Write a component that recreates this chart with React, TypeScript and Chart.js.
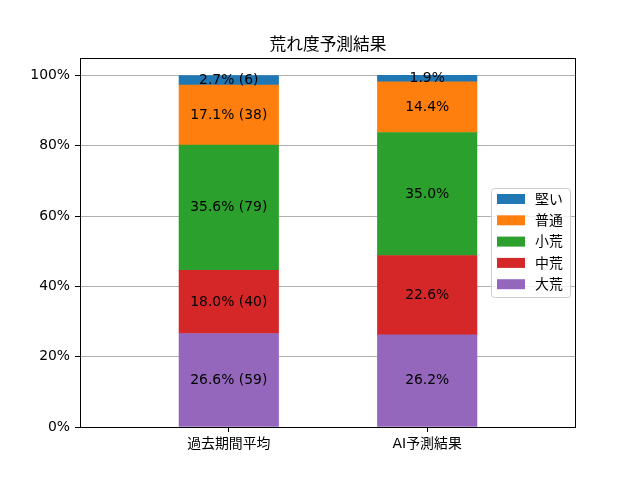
import React, { useEffect, useRef } from 'react';
import { Chart, registerables } from 'chart.js';

Chart.register(...registerables);

const categories = ['過去期間平均', 'AI予測結果'];
// bottom to top of each stacked bar
const seriesNames = ['大荒', '中荒', '小荒', '普通', '堅い'];
const seriesColors = ['#9467bd', '#d62728', '#2ca02c', '#ff7f0e', '#1f77b4'];
const pastPct = [26.6, 18.0, 35.6, 17.1, 2.7];
const pastCount = [59, 40, 79, 38, 6];
const aiPct = [26.2, 22.6, 35.0, 14.4, 1.9];
const yTicks = [0, 20, 40, 60, 80, 100];

const FONT = '"DejaVu Sans", "Noto Sans CJK JP", sans-serif';

const barLabels = {
  id: 'barLabels',
  afterDatasetsDraw(chart: Chart) {
    const ctx = chart.ctx;
    ctx.save();
    ctx.font = `13.9px ${FONT}`;
    ctx.fillStyle = '#000';
    ctx.textAlign = 'center';
    ctx.textBaseline = 'middle';
    chart.data.datasets.forEach((ds, i) => {
      const meta = chart.getDatasetMeta(i);
      meta.data.forEach((el: any, j: number) => {
        const text = j === 0
          ? `${pastPct[i].toFixed(1)}% (${pastCount[i]})`
          : `${aiPct[i].toFixed(1)}%`;
        ctx.fillText(text, el.x, (el.y + el.base) / 2);
      });
    });
    ctx.restore();
  },
};

const frameAndLegend = {
  id: 'frameAndLegend',
  afterDraw(chart: Chart) {
    const ctx = chart.ctx;
    const a = chart.chartArea;
    ctx.save();
    ctx.strokeStyle = '#000';
    ctx.lineWidth = 1;
    ctx.strokeRect(Math.round(a.left) + 0.5, Math.round(a.top) + 0.5,
      Math.round(a.right - a.left) - 1, Math.round(a.bottom - a.top));

    // title
    ctx.font = `16.7px ${FONT}`;
    ctx.fillStyle = '#000';
    ctx.textAlign = 'center';
    ctx.textBaseline = 'alphabetic';
    ctx.fillText('荒れ度予測結果', (a.left + a.right) / 2, a.top - 8);

    // legend (top entry = top of stack)
    const lx = 491, ly = 188, lw = 79, lh = 109;
    ctx.beginPath();
    ctx.roundRect(lx + 0.5, ly + 0.5, lw, lh, 3);
    ctx.fillStyle = 'rgba(255,255,255,0.8)';
    ctx.fill();
    ctx.strokeStyle = '#cccccc';
    ctx.stroke();
    ctx.font = `13.9px ${FONT}`;
    ctx.textAlign = 'left';
    ctx.textBaseline = 'middle';
    const order = [...seriesNames.keys()].reverse();
    order.forEach((s, k) => {
      const cy = 199 + k * 21.3;
      ctx.fillStyle = seriesColors[s];
      ctx.fillRect(497, cy - 5, 28, 10);
      ctx.fillStyle = '#000';
      ctx.fillText(seriesNames[s], 535, cy + 1);
    });
    ctx.restore();
  },
};

const App: React.FC = () => {
  const canvasRef = useRef<HTMLCanvasElement>(null);

  useEffect(() => {
    if (!canvasRef.current) return;
    const ctx = canvasRef.current.getContext('2d');
    if (!ctx) return;

    const chart = new Chart(ctx, {
      type: 'bar',
      data: {
        datasets: seriesNames.map((name, i) => ({
          label: name,
          data: [
            { x: 0, y: pastPct[i] },
            { x: 1, y: aiPct[i] },
          ],
          backgroundColor: seriesColors[i],
          borderWidth: 0,
          barThickness: 99.5,
        })),
      },
      options: {
        responsive: true,
        maintainAspectRatio: false,
        animation: false,
        devicePixelRatio: 1,
        layout: { padding: { top: 58, right: 64, left: 0, bottom: 0 } },
        plugins: {
          legend: { display: false },
          title: { display: false },
          tooltip: { enabled: false },
        },
        scales: {
          x: {
            type: 'linear',
            stacked: true,
            offset: false,
            min: -0.75,
            max: 1.75,
            afterBuildTicks: (scale: any) => {
              scale.ticks = categories.map((_, i) => ({ value: i }));
            },
            afterFit: (scale: any) => {
              scale.height = 53;
            },
            border: { display: false },
            grid: {
              offset: false,
              drawOnChartArea: false,
              drawTicks: true,
              tickLength: 5,
              tickColor: '#000',
            },
            ticks: {
              autoSkip: false,
              maxRotation: 0,
              padding: 4,
              color: '#000',
              font: { family: FONT, size: 13.9 },
              callback: (v: any) => categories[v as number] ?? '',
            },
          },
          y: {
            type: 'linear',
            stacked: true,
            min: 0,
            max: 105,
            afterBuildTicks: (scale: any) => {
              scale.ticks = yTicks.map((v) => ({ value: v }));
            },
            afterFit: (scale: any) => {
              scale.width = 80;
            },
            border: { display: false },
            grid: {
              color: '#b0b0b0',
              lineWidth: 1,
              tickLength: 5,
              tickColor: '#000',
            },
            ticks: {
              padding: 5,
              color: '#000',
              font: { family: FONT, size: 13.9 },
              callback: (v: any) => `${v}%`,
            },
          },
        },
      },
      plugins: [barLabels, frameAndLegend],
    });

    return () => {
      chart.destroy();
    };
  }, []);

  return (
    <div style={{ position: 'fixed', left: 0, top: 0, width: 640, height: 480, background: '#fff' }}>
      <canvas ref={canvasRef} />
    </div>
  );
};

export default App;
